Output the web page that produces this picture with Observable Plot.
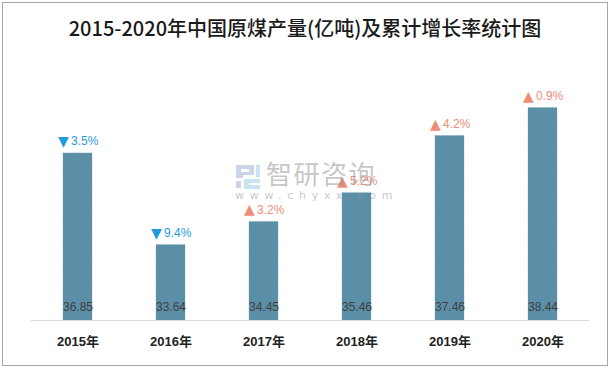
<!DOCTYPE html>
<html>
<head>
<meta charset="utf-8">
<script src="https://cdn.jsdelivr.net/npm/d3@7"></script>
<script src="https://cdn.jsdelivr.net/npm/@observablehq/plot@0.6"></script>
<style>
  html, body { margin: 0; padding: 0; background: #fff; }
  #frame { position: absolute; left: 2px; top: 2px; width: 604px; height: 362px; border: 1px solid #a6a6a6; background: #fff; }
  #title { position: absolute; left: 0; top: 0; width: 604px; height: 50px; line-height: 50px; text-align: center;
           font-family: "Noto Sans CJK SC", "Noto Sans", sans-serif; font-size: 20px; color: #1a1a1a; font-weight: 500; }
  #chart { position: absolute; left: 0; top: 48px; }
  #wm { position: absolute; left: 234px; top: 161px; pointer-events: none; }
  #wm .cn { position: absolute; left: 32px; top: -7px; font-family: "Noto Sans CJK SC", sans-serif; font-size: 26px; color: rgba(150,150,150,0.55); white-space: nowrap; letter-spacing: 1.5px; }
  #wm .en { position: absolute; left: 1px; top: 28px; font-family: "DejaVu Sans", sans-serif; font-size: 11px; color: rgba(150,150,150,0.55); white-space: nowrap; letter-spacing: 5.7px; }
</style>
</head>
<body>
<div id="frame">
  <div id="title">2015-2020年中国原煤产量(亿吨)及累计增长率统计图</div>
  <div id="chart"></div>
</div>
<div id="wm">
  <svg width="28" height="28" style="position:absolute;left:0;top:2px">
    <path d="M2 2 H20 V12 H9 V15 H2 Z M7 6 V9 H15 V6 Z" fill="rgba(170,185,215,0.6)"/>
    <path d="M2 18 H7 V25 H2 Z" fill="rgba(170,185,215,0.6)"/>
    <path d="M10 16 H26 V20 H15 V22 H26 V26 H10 Z" fill="rgba(150,200,230,0.5)"/>
    <path d="M22 2 H26 V14 H22 Z" fill="rgba(150,200,230,0.5)"/>
  </svg>
  <div class="cn">智研咨询</div>
  <div class="en">www.chyxx.com</div>
</div>
<script>
const years = ["2015年", "2016年", "2017年", "2018年", "2019年", "2020年"];
const output = [36.85, 33.64, 34.45, 35.46, 37.46, 38.44];
const growth = [-3.5, -9.4, 3.2, 5.2, 4.2, 0.9];
const yMin = 31, yMax = 40;

const data = years.map((y, i) => ({year: y, value: output[i], growth: growth[i]}));
const labelColor = d => d.growth < 0 ? "#1f9bdc" : "#f08d77";

const chart = Plot.plot({
  width: 604,
  height: 314,
  marginLeft: 28,
  marginRight: 18,
  marginTop: 12,
  marginBottom: 45,
  style: { background: "transparent", overflow: "visible" },
  x: { domain: years, paddingInner: 0.685, paddingOuter: 0.3425, label: null },
  y: { domain: [yMin, yMax], axis: null },
  marks: [
    Plot.barY(data, { x: "year", y1: yMin, y2: "value", fill: "#5b8fa7", stroke: "#6f9db3", strokeWidth: 0.5, strokeDasharray: "2,1" }),
    Plot.ruleY([yMin], { stroke: "#d9d9d9", strokeWidth: 1.2 }),
    Plot.text(data, { x: "year", y: yMin, text: d => d.value.toFixed(2), dy: -13, fill: "#404040",
      fontSize: 12, fontFamily: "Liberation Sans, sans-serif" }),
    Plot.text(data, { x: "year", y: "value", text: d => d.growth < 0 ? "▼" : "▲",
      dy: -12, dx: -20, textAnchor: "start", fill: labelColor, fontSize: 14, fontFamily: "DejaVu Sans, sans-serif" }),
    Plot.text(data, { x: "year", y: "value", text: d => Math.abs(d.growth).toFixed(1) + "%",
      dy: -12, dx: -7, textAnchor: "start", fill: labelColor, fontSize: 12, fontFamily: "Liberation Sans, sans-serif" }),
    Plot.axisX({ tickSize: 0, tickPadding: 16, fontSize: 13, fontWeight: "bold", fill: "#222",
      fontFamily: "Liberation Sans, Noto Sans CJK SC, sans-serif", label: null })
  ]
});
document.getElementById("chart").appendChild(chart);
</script>
</body>
</html>
